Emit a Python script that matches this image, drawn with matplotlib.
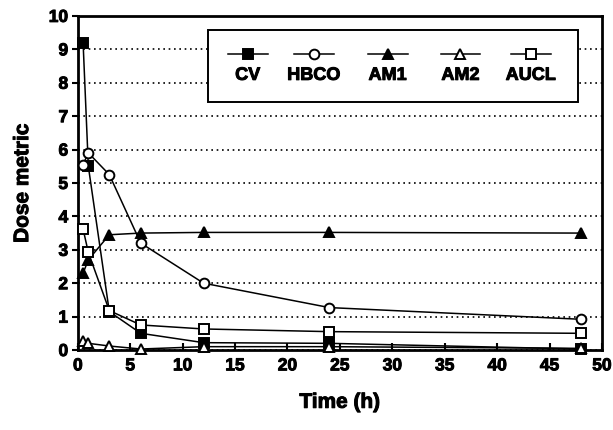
import matplotlib
matplotlib.use("Agg")
import matplotlib.pyplot as plt
import matplotlib.patheffects as pe
from matplotlib.lines import Line2D
from matplotlib.patches import Rectangle

plt.rcParams['font.family'] = ['Liberation Sans', 'DejaVu Sans']
plt.rcParams['font.weight'] = 'bold'

# time points (h)
time_h = [0.5, 1, 3, 6, 12, 24, 48]

# dose metrics
cv = [9.2, 5.5, 1.15, 0.5, 0.22, 0.2, 0.03]
hbco = [5.55, 5.9, 5.25, 3.2, 2.0, 1.27, 0.92]
am1 = [2.3, 2.7, 3.45, 3.5, 3.52, 3.52, 3.5]
am2 = [0.28, 0.2, 0.12, 0.03, 0.1, 0.1, 0.05]
aucl = [3.62, 2.92, 1.18, 0.75, 0.63, 0.55, 0.5]

series = [
    ("CV", cv, "s", "black"),
    ("HBCO", hbco, "o", "white"),
    ("AM1", am1, "^", "black"),
    ("AM2", am2, "^", "white"),
    ("AUCL", aucl, "s", "white"),
]

heavy = [pe.withStroke(linewidth=0.7, foreground="black")]

fig = plt.figure(figsize=(6.13, 4.3), dpi=100)
ax = fig.add_axes([0.127, 0.186, 0.855, 0.777])

for name, vals, mk, fc in series:
    ax.plot(time_h, vals, color="black", lw=1.1, marker=mk, ms=7,
            mfc=fc, mec="black", mew=1.4, clip_on=False, zorder=3)

ax.set_xlim(0, 50)
ax.set_ylim(0, 10)
ax.set_xticks(range(0, 51, 5))
ax.set_yticks(range(0, 11))
ax.yaxis.grid(True, linestyle=(0, (1, 2.2)), color="black", lw=1.2)
ax.set_axisbelow(True)
for s in ax.spines.values():
    s.set_linewidth(2)
ax.tick_params(axis="x", direction="in", length=5, width=1.5, labelsize=12.5, pad=6)
ax.tick_params(axis="y", direction="out", length=4, width=1.5, labelsize=12.5, pad=3)
for lab in ax.get_xticklabels() + ax.get_yticklabels():
    lab.set_fontweight("bold")
    lab.set_path_effects(heavy)

ax.set_xlabel("Time (h)", fontsize=15, fontweight="bold", labelpad=14,
              path_effects=heavy)
ax.set_ylabel("Dose metric", fontsize=15, fontweight="bold", labelpad=12,
              path_effects=heavy)

# legend drawn by hand: handle above label
box = Rectangle((0.249, 0.742), 0.706, 0.215, transform=ax.transAxes,
                facecolor="white", edgecolor="black", lw=1.4, zorder=5)
ax.add_patch(box)
centers = [0.324, 0.450, 0.591, 0.730, 0.864]
for (name, vals, mk, fc), cx in zip(series, centers):
    ax.add_line(Line2D([cx - 0.038, cx + 0.038], [0.885, 0.885], transform=ax.transAxes,
                       color="black", lw=1.1, zorder=6))
    ax.add_line(Line2D([cx], [0.885], transform=ax.transAxes, marker=mk, ms=7,
                       mfc=fc, mec="black", mew=1.4, zorder=7))
    ax.text(cx, 0.822, name, transform=ax.transAxes, ha="center", va="center",
            fontsize=13, fontweight="bold", zorder=7, path_effects=heavy)

fig.savefig("out.png", dpi=100)
